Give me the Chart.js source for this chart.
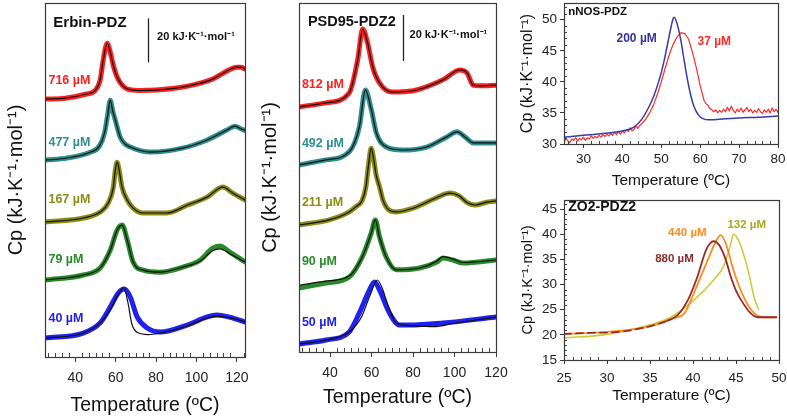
<!DOCTYPE html>
<html><head><meta charset="utf-8">
<script src="https://cdn.jsdelivr.net/npm/chart.js@4.4.0/dist/chart.umd.min.js"></script>
<style>
html,body{margin:0;padding:0;background:#fff;width:787px;height:417px;overflow:hidden;position:relative}
canvas{position:absolute}
</style></head><body>
<canvas id="c1" width="260" height="417" style="left:0;top:0"></canvas>
<canvas id="c2" width="260" height="417" style="left:260px;top:0"></canvas>
<canvas id="c3" width="267" height="200" style="left:520px;top:0"></canvas>
<canvas id="c4" width="267" height="222" style="left:520px;top:195px"></canvas>
<script>
// ---------- Erbin-PDZ (stacked, kJ·K-1·mol-1 with offsets) ----------
const erbinT716=[25,35,45,50,52.3,53.8,55.8,57.3,58.8,60.7,63.2,66,72,80,90,100,108,114,118,120,122,124];
const erbinCp716=[117.3,117.7,119.5,121.4,126,135,142.7,138.6,132.7,127.3,123.6,121.8,121.2,121.4,122.3,124.1,126.4,129.5,131.4,131.8,131.8,131];
const erbinT477=[25,36,47,52,54.5,56,57.3,58.5,59.8,62.2,64.5,67.2,77,93,105,115,119,121.5,124];
const erbinCp477=[89.5,90.5,93,96,102,110,116.8,112,107.7,100,97,95.5,93.2,95,98.6,103.2,105,104,103];
const erbinT167=[25,44,52.3,56.3,58.8,59.8,60.7,61.7,63.2,65.7,68.6,73.6,85.4,95.3,105.2,113,118,124];
const erbinCp167=[61.4,63.2,65.9,70,77,85,88.6,85,77,71.4,67.7,65.5,65.5,69,72.7,77.3,74.5,71.4];
const erbinT79=[25,44,52.3,57.3,60.7,63.2,65.7,68.6,73.6,82,93.3,101.7,108,111.6,116.5,124];
const erbinCp79=[35,37.3,40.5,48.6,57.7,60,53.2,43.2,39.5,38.6,40.9,44,49.5,50.5,47.7,43.2];
const erbinFitCp79=[35,37.3,40.5,48.6,57.7,60,53.2,43.2,39.5,38.6,40.9,43.5,48.3,49.2,47,43.2];
const erbinT40=[25,44,52.3,57.3,61.2,64.2,67.2,70.6,75.6,82,95.3,105.2,110,118,124];
const erbinCp40=[8.6,10.9,15.5,22.7,29,30.9,27.3,18.2,13.2,11.4,14.5,18.2,19.1,17.7,15.9];
const erbinFitT40=[25,44,52.3,57.3,61,64,66,68,71,76,82,95,105,110,118,124];
const erbinFitCp40=[8.6,10.9,15.5,21.5,28,31.5,25,15,11,10.2,10.9,14,17.7,18.6,17.5,16];

// ---------- PSD95-PDZ2 ----------
const psdT812=[25,38,49.2,53.3,55.7,58.1,60.5,63.8,70,81.7,94.4,102.6,106,109,112.3,120];
const psdCp812=[106.5,108.3,112.6,127,140.4,134.2,124,117,113,113.9,118.3,122.6,121.3,116,115.7,116];
const psdT492=[25,38,49.2,54.1,57,59.9,62.3,67.2,75,86.6,96.3,101.2,105,109,120];
const psdCp492=[81.3,83.5,87,97.8,113.9,105.2,95.2,89.1,87.8,89.1,93.5,95.7,93.5,90.9,90.9];
const psdT211=[25,39.5,49.2,52.5,55.5,57.3,58.6,59.8,61,62.2,63.8,65.5,68,72,80,90,97.8,102,106,110,115,120];
const psdCp211=[55.2,57.4,60.9,63.2,66,72,82,88.6,84,77,71.9,66,62,60.9,62.5,66.5,69.1,68,65,63.9,65,65.7];
const psdT90=[25,38,49.2,55.5,59.8,61.8,63.8,67,71.9,83.2,91.5,94.4,99.2,104.1,120];
const psdCp90=[27.8,30,32.6,41.3,51.6,57.4,50.1,41.4,35.7,36.5,39.1,40.9,40,38.7,40];
const psdFitCp90=[29,30.8,33,41.3,51.6,57.4,50.1,41.4,35.7,36.5,39.5,41.5,40.4,38.9,40];
const psdT50=[25,38,49.2,54.1,59,61.4,63.8,68.6,73.5,78.3,94.4,120];
const psdCp50=[3.5,5.2,8.7,17,27,30.4,27,17,11.7,11.7,12.6,15.2];
const psdFitT50=[25,38,49.2,55,59,62.8,65,68,72,78,90,100,120];
const psdFitCp50=[3.5,5.2,8.7,15,24,31.3,28,20,12.5,11.5,11,12.5,15.2];

// ---------- nNOS-PDZ ----------
const nnosT200=[25,30,35,40,43,45,47,48,49,50,51,52,53,53.3,54,55,56,57,58,59,60,61,62,63,65,70,75,80];
const nnosCp200=[31.1,31.4,31.7,32.1,32.7,34,36.2,37.6,39.4,41.5,44.2,47.3,50.1,50.4,49.5,46.8,43.0,39.5,36.8,35.2,34.4,34.0,33.9,33.9,34.0,34.2,34.3,34.5];
const nnosT37=[25,25.5,26,26.5,27,27.5,28,28.5,29,29.5,30,30.5,31,31.5,32,32.5,33,33.5,34,34.5,35,35.5,36,36.5,37,37.5,38,38.5,39,39.5,40,40.5,41,41.5,42,42.5,43,43.5,44,44.5,45,46,47,48,49,50,51,52,53,54,55,56,57,58,59,60,61,61.5,62,62.5,63,63.5,64,64.5,65,65.5,66,66.5,67,67.5,68,68.5,69,69.5,70,70.5,71,71.5,72,72.5,73,73.5,74,74.5,75,75.5,76,76.5,77,77.5,78,78.5,79,79.5,80];
const nnosCp37=[30.3,30.9,30.5,30.2,30.8,30.6,31.0,30.5,30.9,30.7,31.1,30.6,31.0,30.8,31.3,30.9,31.2,31.0,31.4,31.1,31.5,31.2,31.6,31.3,31.7,31.4,31.9,31.5,32.0,31.6,32.1,31.8,32.3,32.0,32.6,32.1,32.4,32.9,32.5,33.0,33.3,34.0,35.0,36.3,38.0,40.0,42.2,44.3,46.0,47.2,47.9,47.8,46.9,44.8,42.3,39.4,37.0,36.5,36.2,35.7,35.5,35.2,35.5,35.0,35.4,35.1,35.6,35.2,35.9,35.3,36.1,35.4,35.0,35.6,35.2,35.8,35.1,35.5,35.9,35.2,35.6,35.0,35.4,35.1,35.7,35.2,34.9,35.5,35.1,35.6,35.0,35.8,35.2,35.6,35.1];

// ---------- ZO2-PDZ2 ----------
const zoT880=[25,28,31.5,35.4,37,38.2,39.4,40.5,41.5,42,42.4,42.8,43.2,43.8,44.4,45,45.6,46.7,47.5,48.5,49.7];
const zoCp880=[20.2,20.4,20.6,21.9,22.8,23.9,26.9,31.5,36.8,38.2,38.6,38.3,37.4,35,31.5,28.8,26.9,24.3,23.5,23.5,23.5];
const zoT440=[25,30,35,37.7,39,40.1,41,41.7,42.5,43.2,43.8,44.7,45.9,47.1,48.2,49.5];
const zoCp440=[20.2,20.6,21.7,23.3,24.3,28.3,32,34.8,38,39.8,38.2,32.9,27.5,24.3,23.5,23.5];
const zoT132=[25,29.6,33.5,37.4,40.1,42.4,43.6,44.4,44.7,45.3,46.4,47.1,47.6];
const zoCp132=[19.4,20,21.3,23.5,26.9,30.9,33.8,38.2,40,38.8,32.9,27.5,25.1];

const tempTicks=[40,60,80,100,120];

const FONT="'Liberation Sans', Arial, Helvetica, sans-serif";
Chart.defaults.font.family=FONT;
const YT='Cp (kJ·K\u207B\u00B9·mol\u207B\u00B9)';
const XT='Temperature (ºC)';
const SB='20 kJ·K\u207B\u00B9·mol\u207B\u00B9';

const deco={
  id:'deco',
  afterDatasetsDraw(chart,args,o){
    const ctx=chart.ctx, a=chart.chartArea, xs=chart.scales.x, ys=chart.scales.y;
    ctx.save();
    ctx.strokeStyle='#444'; ctx.lineWidth=1;
    const minor=(sc,step,major,horiz)=>{
      if(!step) return;
      const k0=Math.ceil(sc.min/step-1e-9), k1=Math.floor(sc.max/step+1e-9);
      for(let k=k0;k<=k1;k++){
        const v=k*step; const r=v/major;
        if(Math.abs(r-Math.round(r))<1e-6) continue;
        const p=Math.round(sc.getPixelForValue(v))+0.5;
        ctx.beginPath();
        if(horiz){ctx.moveTo(p,a.bottom);ctx.lineTo(p,a.bottom-o.mlen);}
        else{ctx.moveTo(a.left,p);ctx.lineTo(a.left+o.mlen,p);}
        ctx.stroke();
      }
    };
    minor(xs,o.minorX,o.majorX,true);
    minor(ys,o.minorY,o.majorY,false);
    ctx.strokeStyle='#3a3a3a'; ctx.lineWidth=1.2;
    ctx.strokeRect(Math.round(a.left)+0.5,Math.round(a.top)+0.5,Math.round(a.right-a.left),Math.round(a.bottom-a.top));
    if(o.bar){
      ctx.strokeStyle='#222'; ctx.lineWidth=1.3;
      const bx=Math.round(xs.getPixelForValue(o.bar.x))+0.5;
      ctx.beginPath(); ctx.moveTo(bx,ys.getPixelForValue(o.bar.y0)); ctx.lineTo(bx,ys.getPixelForValue(o.bar.y1)); ctx.stroke();
    }
    ctx.textBaseline='middle'; ctx.textAlign='left';
    (o.texts||[]).forEach(t=>{
      ctx.font=t.f; ctx.fillStyle=t.c;
      ctx.fillText(t.t, xs.getPixelForValue(t.x), ys.getPixelForValue(t.y));
    });
    ctx.restore();
  }
};

function ds(T,Cp,color,w,order,extra){
  return Object.assign({data:T.map((t,i)=>({x:t,y:Cp[i]})),borderColor:color,borderWidth:w,pointRadius:0,fill:false,
    cubicInterpolationMode:'monotone',order:order,borderCapStyle:'round',borderJoinStyle:'round'},extra||{});
}
const noPad=s=>{s.paddingTop=0;s.paddingBottom=0;s.paddingLeft=0;s.paddingRight=0;};

function make(id,c){
  return new Chart(document.getElementById(id),{
    type:'line',
    data:{datasets:c.datasets},
    options:{
      responsive:false,animation:false,events:[],
      layout:{padding:c.padding,autoPadding:false},
      plugins:{legend:{display:false},tooltip:{enabled:false},deco:c.deco},
      scales:{
        x:{type:'linear',min:c.x.min,max:c.x.max,afterFit:s=>{s.height=c.x.h;noPad(s);},
          afterBuildTicks:c.x.ticksArr?(s=>{s.ticks=c.x.ticksArr.map(v=>({value:v}));}):undefined,
          ticks:{stepSize:c.x.step,includeBounds:false,autoSkip:false,maxRotation:0,color:'#222',font:{size:c.x.fs},padding:c.x.pad},
          grid:{display:true,drawOnChartArea:false,drawTicks:true,tickLength:c.x.tl,color:'#3a3a3a'},
          border:{display:false},
          title:{display:true,text:XT,color:'#111',font:{size:c.x.tfs,lineHeight:1.2},padding:{top:0,bottom:c.x.tpad}}},
        y:{type:'linear',min:c.y.min,max:c.y.max,afterFit:s=>{s.width=c.y.w;noPad(s);},
          ticks:{display:c.y.ticks,stepSize:c.y.step,includeBounds:false,color:'#222',font:{size:c.y.fs},padding:3},
          grid:{display:c.y.ticks,drawOnChartArea:false,drawTicks:true,tickLength:4,color:'#3a3a3a'},
          border:{display:false},
          title:{display:true,text:YT,color:'#111',font:{size:c.y.tfs,lineHeight:1.0},padding:{top:c.y.tpad,bottom:0}}}
      }
    },
    plugins:[deco]
  });
}

const RED='#ff2020',TEAL='#2e8f8f',OLIVE='#8c8c14',GREEN='#2a8a2a',BLUE='#2020f0',BLK='#111';
const lb=(t,x,y,c)=>({t,x,y,c,f:'bold 12.5px '+FONT});

make('c1',{
  padding:{top:3,right:15,left:0,bottom:0},
  x:{min:25,max:124,h:60,step:20,fs:14,pad:8,tl:5,tfs:19.5,tpad:0,ticksArr:tempTicks},
  y:{min:0,max:161,w:45,ticks:false,tfs:20,tpad:6},
  deco:{minorX:20/6,majorX:20,mlen:4,bar:{x:76,y0:134,y1:154},texts:[
    {t:'Erbin-PDZ',x:29.1,y:151.8,c:BLK,f:'bold 15px '+FONT},
    {t:SB,x:80.5,y:145.5,c:BLK,f:'bold 11px '+FONT},
    lb('716 µM',26.7,125.9,RED),lb('477 µM',26.7,97.7,TEAL),lb('167 µM',26.7,71.4,OLIVE),
    lb('79 µM',26.7,44.1,GREEN),lb('40 µM',26.7,17.7,BLUE)]},
  datasets:[
    ds(erbinT716,erbinCp716,RED,5,2),ds(erbinT716,erbinCp716,BLK,1.2,1),
    ds(erbinT477,erbinCp477,TEAL,5,2),ds(erbinT477,erbinCp477,BLK,1.2,1),
    ds(erbinT167,erbinCp167,OLIVE,5,2),ds(erbinT167,erbinCp167,BLK,1.2,1),
    ds(erbinT79,erbinCp79,GREEN,5,2),ds(erbinT79,erbinFitCp79,BLK,1.2,1),
    ds(erbinT40,erbinCp40,BLUE,5,2),ds(erbinFitT40,erbinFitCp40,BLK,1.2,1)
  ]
});

make('c2',{
  padding:{top:3,right:24,left:0,bottom:0},
  x:{min:25,max:120,h:65,step:20,fs:14,pad:8,tl:5,tfs:19.5,tpad:8,ticksArr:tempTicks},
  y:{min:0,max:151.7,w:39,ticks:false,tfs:20,tpad:0},
  deco:{minorX:20/6,majorX:20,mlen:4,bar:{x:75,y0:126.5,y1:146.5},texts:[
    {t:'PSD95-PDZ2',x:29.3,y:143.5,c:BLK,f:'bold 14.5px '+FONT},
    {t:SB,x:78.3,y:137.8,c:BLK,f:'bold 11px '+FONT},
    lb('812 µM',26.4,116.1,RED),lb('492 µM',26.4,90.4,TEAL),lb('211 µM',26.4,64.8,OLIVE),
    lb('90 µM',26.4,39.1,GREEN),lb('50 µM',26.4,13,BLUE)]},
  datasets:[
    ds(psdT812,psdCp812,RED,5,2),ds(psdT812,psdCp812,BLK,1.2,1),
    ds(psdT492,psdCp492,TEAL,5,2),ds(psdT492,psdCp492,BLK,1.2,1),
    ds(psdT211,psdCp211,OLIVE,5,2),ds(psdT211,psdCp211,BLK,1.2,1),
    ds(psdT90,psdCp90,GREEN,5,2),ds(psdT90,psdFitCp90,BLK,1.2,1),
    ds(psdT50,psdCp50,BLUE,5,2),ds(psdFitT50,psdFitCp50,BLK,1.2,1)
  ]
});

make('c3',{
  padding:{top:3,right:9,left:0,bottom:0},
  x:{min:25,max:80,h:56,step:10,fs:13.5,pad:3,tl:4,tfs:15.5,tpad:10},
  y:{min:30,max:52.7,w:44,ticks:true,step:5,fs:13.5,tfs:16,tpad:0},
  deco:{minorX:2,majorX:10,minorY:1,majorY:5,mlen:3,texts:[
    {t:'nNOS-PDZ',x:26.1,y:51.3,c:BLK,f:'bold 11.5px '+FONT},
    {t:'200 µM',x:38.5,y:46.9,c:'#333399',f:'bold 12px '+FONT},
    {t:'37 µM',x:59.3,y:46.5,c:'#ff2a2a',f:'bold 12px '+FONT}]},
  datasets:[
    ds(nnosT200,nnosCp200,'#3a3aa8',1.5,1),
    ds(nnosT37,nnosCp37,'#ff2a2a',1.2,2,{cubicInterpolationMode:'default',tension:0})
  ]
});

make('c4',{
  padding:{top:5,right:8,left:0,bottom:0},
  x:{min:25,max:50,h:57,step:5,fs:13.5,pad:6,tl:4,tfs:15.5,tpad:12},
  y:{min:15,max:46.8,w:44,ticks:true,step:5,fs:13.5,tfs:14.5,tpad:0.5},
  deco:{minorX:1,majorX:5,minorY:1,majorY:5,mlen:3,texts:[
    {t:'ZO2-PDZ2',x:25.5,y:45.4,c:BLK,f:'bold 14px '+FONT},
    {t:'440 µM',x:37.1,y:40.2,c:'#ff8c1a',f:'bold 11.5px '+FONT},
    {t:'132 µM',x:44,y:41.8,c:'#a8a820',f:'bold 11.5px '+FONT},
    {t:'880 µM',x:35.6,y:35.2,c:'#8b2a2a',f:'bold 11.5px '+FONT}]},
  datasets:[
    ds(zoT880,zoCp880,'#9a2a2a',1.8,1,{segment:{borderDash:ctx=>ctx.p0.parsed.x<37?[7,5]:undefined}}),
    ds(zoT440,zoCp440,'#ff8c1a',1.8,2),
    ds(zoT132,zoCp132,'#cccc3a',1.6,3)
  ]
});
</script>
</body></html>
